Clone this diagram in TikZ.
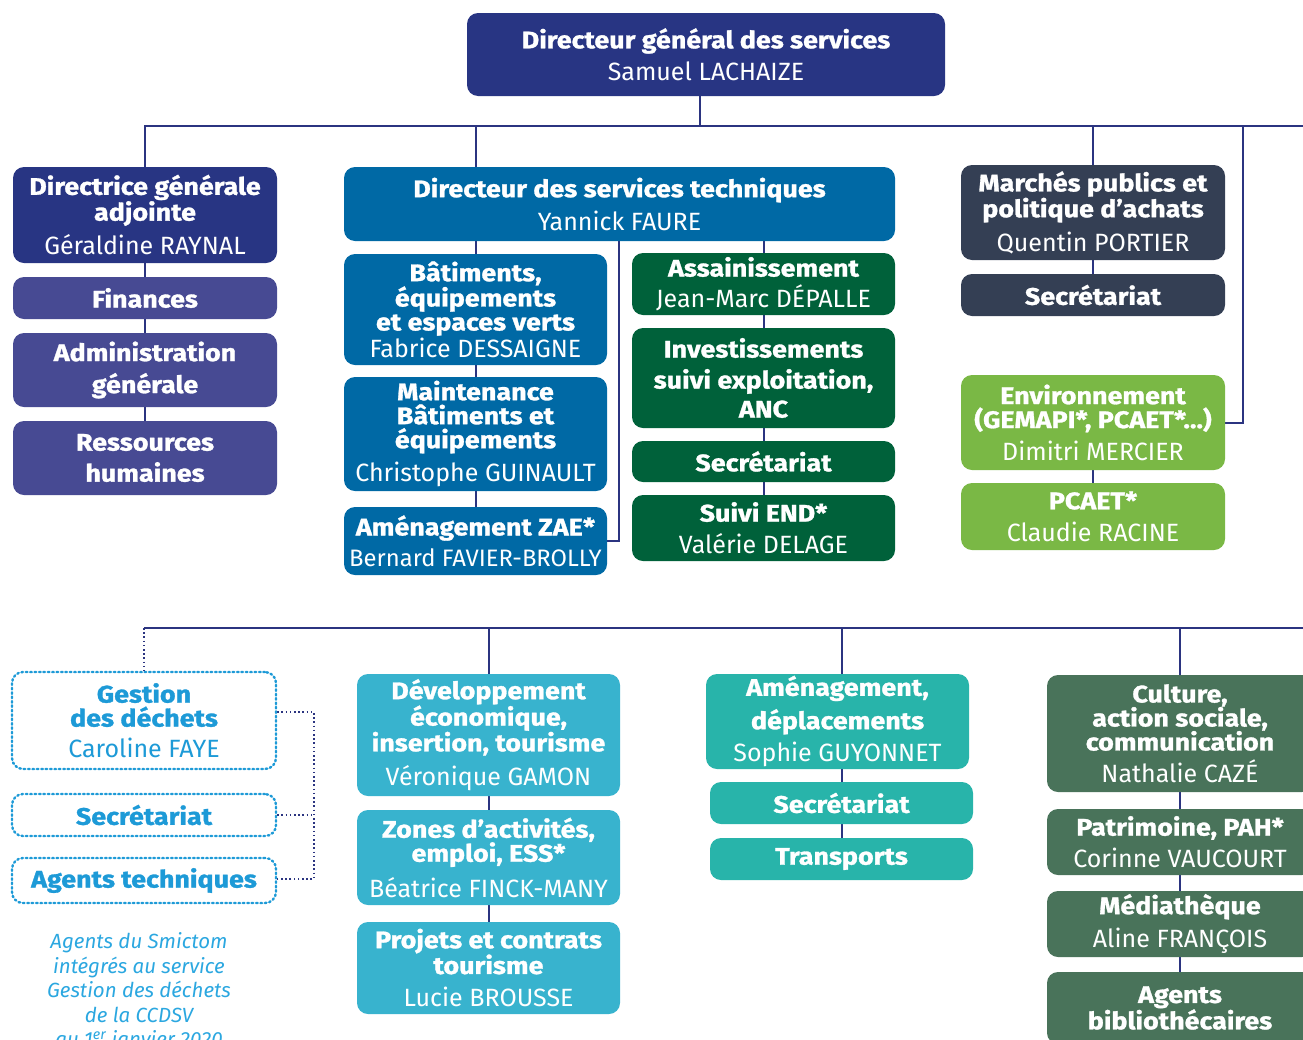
\documentclass[tikz,border=0pt]{standalone}
\usepackage{fontspec}
\setmainfont{Fira Sans}[BoldFeatures={FakeStretch=1.12, FakeBold=1.2}]
\usetikzlibrary{backgrounds}
\definecolor{navy}{HTML}{283583}
\definecolor{linecol}{HTML}{2B3480}
\definecolor{purp}{HTML}{474A93}
\definecolor{tblue}{HTML}{0069A5}
\definecolor{dgreen}{HTML}{00613A}
\definecolor{slate}{HTML}{343F54}
\definecolor{lgreen}{HTML}{7AB845}
\definecolor{cyanb}{HTML}{38B3CE}
\definecolor{teal}{HTML}{28B4AA}
\definecolor{cgreen}{HTML}{49735A}
\definecolor{dotblue}{HTML}{1D9AD7}
\definecolor{capblue}{HTML}{2BA7E0}
\newcommand{\nm}[1]{{\mdseries\fontsize{25}{24}\selectfont #1}}
\newcommand{\nms}[1]{{\mdseries\fontsize{23.8}{24}\selectfont #1}}
\tikzset{
 orgbox/.style={rounded corners=11pt, inner sep=0pt, align=center, text=white,
   font=\fontsize{24}{24}\selectfont\bfseries, minimum width=264pt},
 conn/.style={draw=linecol, line width=2pt},
 dconn/.style={draw=linecol, line width=2.2pt, dash pattern=on 1.6pt off 2.6pt},
 dbox/.style={orgbox, draw=dotblue, line width=2.4pt, dash pattern=on 1.6pt off 2.8pt,
   line cap=round, text=dotblue, fill=white},
}
\begin{document}
\begin{tikzpicture}[x=1pt,y=-1pt]
\useasboundingbox (0,0) rectangle (1303,1039);
\clip (0,0) rectangle (1303,1039);
% ---- top
\node[orgbox, fill=navy, minimum width=478pt, minimum height=83pt] (dgs) at (706,54.5)
  {Directeur général des services\\[7pt]\nm{Samuel LACHAIZE}};
% ---- left column
\node[orgbox, fill=navy, minimum height=96pt] (dga) at (145,215)
  {Directrice générale\\adjointe\\[8pt]\nm{Géraldine RAYNAL}};
\node[orgbox, fill=purp, minimum height=42pt] (fin) at (145,298) {Finances};
\node[orgbox, fill=purp, minimum height=74pt] (adm) at (145,370) {Administration\\[8pt]générale};
\node[orgbox, fill=purp, minimum height=74pt] (rh) at (145,458) {Ressources\\[7pt]humaines};
% ---- technical services
\node[orgbox, fill=tblue, minimum width=551pt, minimum height=74pt] (dst) at (619.5,204)
  {Directeur des services techniques\\[7pt]\nm{Yannick FAURE}};
\node[orgbox, fill=tblue, minimum width=263pt, minimum height=111pt] (bat) at (475.5,309.5)
  {Bâtiments,\\équipements\\et espaces verts\\[1pt]\nm{Fabrice DESSAIGNE}};
\node[orgbox, fill=tblue, minimum width=263pt, minimum height=114pt] (mai) at (475.5,434)
  {Maintenance\\Bâtiments et\\équipements\\[8pt]\nm{Christophe GUINAULT}};
\node[orgbox, fill=tblue, minimum width=263pt, minimum height=68pt] (zae) at (475.5,541)
  {Aménagement ZAE*\\[7pt]\nms{Bernard FAVIER-BROLLY}};
\node[orgbox, fill=dgreen, minimum width=263pt, minimum height=62pt] (ass) at (763.5,284)
  {Assainissement\\[7pt]\nm{Jean-Marc DÉPALLE}};
\node[orgbox, fill=dgreen, minimum width=263pt, minimum height=100pt] (inv) at (763.5,378)
  {Investissements\\[7pt]suivi exploitation,\\[5pt]ANC};
\node[orgbox, fill=dgreen, minimum width=263pt, minimum height=41pt] (gsec) at (763.5,461.5)
  {Secrétariat};
\node[orgbox, fill=dgreen, minimum width=263pt, minimum height=66pt] (end) at (763.5,528)
  {Suivi END*\\[8pt]\nm{Valérie DELAGE}};
% ---- right column
\node[orgbox, fill=slate, minimum height=95pt] (mar) at (1093,212.5)
  {Marchés publics et\\politique d’achats\\[8pt]\nm{Quentin PORTIER}};
\node[orgbox, fill=slate, minimum height=42pt] (msec) at (1093,295) {Secrétariat};
\node[orgbox, fill=lgreen, minimum height=95pt] (env) at (1093,422.5)
  {Environnement\\(GEMAPI*, PCAET*…)\\[8pt]\nm{Dimitri MERCIER}};
\node[orgbox, fill=lgreen, minimum height=67pt] (pca) at (1093,516.5)
  {PCAET*\\[8pt]\nm{Claudie RACINE}};
% ---- second row
\node[dbox, minimum height=97pt] (ges) at (144,720.5)
  {Gestion\\des déchets\\[7pt]\nm{Caroline FAYE}};
\node[dbox, minimum height=42pt] (gsec2) at (144,815) {Secrétariat};
\node[dbox, minimum height=45pt] (agt) at (144,880.5) {Agents techniques};
\node[font=\fontsize{20.5}{24.5}\selectfont\itshape, text=capblue, align=center, inner sep=0pt] (cap) at (139,992)
  {Agents du Smictom\\intégrés au service\\Gestion des déchets\\de la CCDSV\\au 1\textsuperscript{er} janvier 2020};
\node[orgbox, fill=cyanb, minimum width=263pt, minimum height=122pt] (dev) at (488.5,735)
  {Développement\\économique,\\insertion, tourisme\\[9pt]\nm{Véronique GAMON}};
\node[orgbox, fill=cyanb, minimum width=263pt, minimum height=95pt] (zon) at (488.5,857.5)
  {Zones d’activités,\\emploi, ESS*\\[9pt]\nm{Béatrice FINCK-MANY}};
\node[orgbox, fill=cyanb, minimum width=263pt, minimum height=92pt] (pro) at (488.5,968)
  {Projets et contrats\\tourisme\\[9pt]\nm{Lucie BROUSSE}};
\node[orgbox, fill=teal, minimum width=263pt, minimum height=95pt] (amd) at (837.5,721.5)
  {Aménagement,\\[7pt]déplacements\\[7pt]\nm{Sophie GUYONNET}};
\node[orgbox, fill=teal, minimum width=263pt, minimum height=42pt] (asec) at (841.5,803) {Secrétariat};
\node[orgbox, fill=teal, minimum width=263pt, minimum height=42pt] (tra) at (841.5,859) {Transports};
\node[orgbox, fill=cgreen, minimum width=266pt, minimum height=117pt] (cul) at (1180,733.5)
  {Culture,\\action sociale,\\communication\\[8pt]\nm{Nathalie CAZÉ}};
\node[orgbox, fill=cgreen, minimum width=266pt, minimum height=66pt] (pat) at (1180,842)
  {Patrimoine, PAH*\\[8pt]\nm{Corinne VAUCOURT}};
\node[orgbox, fill=cgreen, minimum width=266pt, minimum height=66pt] (med) at (1180,924)
  {Médiathèque\\[8pt]\nm{Aline FRANÇOIS}};
\node[orgbox, fill=cgreen, minimum width=266pt, minimum height=72pt] (agb) at (1180,1008)
  {Agents\\bibliothécaires};
% ---- coordinates
\coordinate (busR) at (1320,126);
\coordinate (dgsbus) at (700,126);
\coordinate (envbus) at (1243,126);
\coordinate (dstv) at (619,241);
\coordinate (bus2L) at (144,628);
\coordinate (bus2R) at (1320,628);
\coordinate (dv1) at (314,712);
\coordinate (dv3) at (314,879);
% ---- connectors
\begin{scope}[on background layer]
\draw[conn] (dgsbus |- dgs.south) -- (dgsbus);
\draw[conn] (dga.north) |- (busR);
\draw[conn] (dga.south) -- (rh.north);
\draw[conn] (bat.north |- busR) -- (zae.north);
\draw[conn] (dstv) |- (zae.east);
\draw[conn] (ass.north |- dst.south) -- (end.north);
\draw[conn] (mar.north |- busR) -- (msec.north);
\draw[conn] (env.south) -- (pca.north);
\draw[conn] (env.east) -| (envbus);
\draw[conn] (bus2L) -- (bus2R);
\draw[dconn] (bus2L) -- (ges.north);
\draw[dconn] (ges.east |- dv1) -- (dv1) -- (dv3) -- (agt.east |- dv3);
\draw[dconn] (gsec2.east) -- (gsec2.east -| dv1);
\draw[conn] (dev.north |- bus2R) -- (pro.north);
\draw[conn] (tra.north |- bus2R) -- (tra.north);
\draw[conn] (cul.north |- bus2R) -- (agb.north);
\end{scope}
\end{tikzpicture}
\end{document}
